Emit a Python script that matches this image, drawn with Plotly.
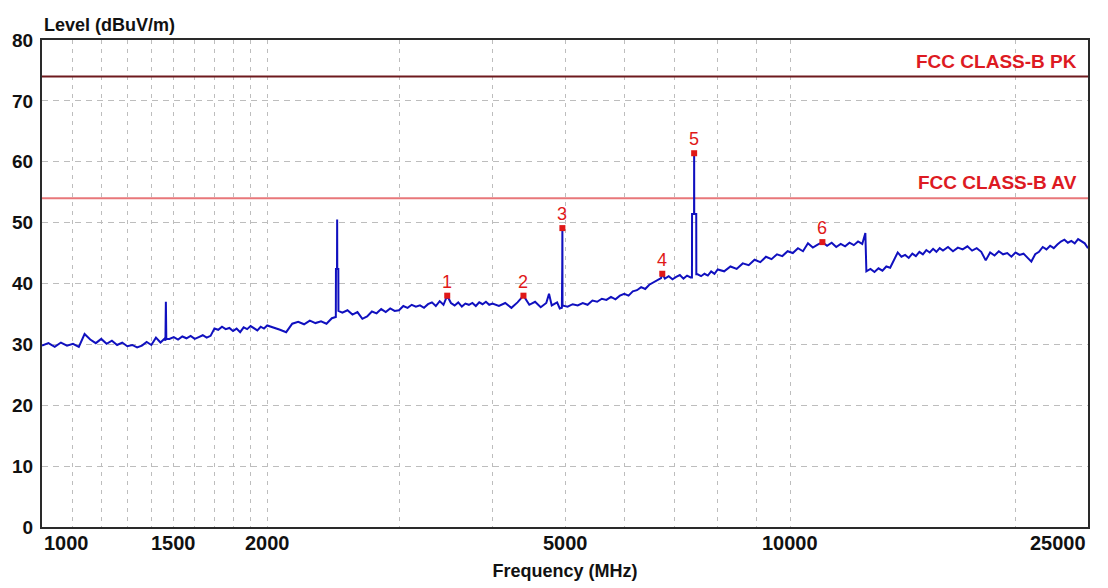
import math
import plotly.graph_objects as go

# Swept emission scan, 1 GHz - 25 GHz (peak detector)
freq_mhz = [
    1000, 1020, 1040, 1060, 1080, 1100, 1120, 1140, 1160, 1180,
    1200, 1220, 1240, 1260, 1280, 1300, 1320, 1340, 1360, 1380,
    1400, 1420, 1440, 1460, 1462, 1464, 1466, 1480, 1500, 1520,
    1540, 1560, 1580, 1600, 1620, 1640, 1660, 1680, 1700, 1720,
    1740, 1760, 1780, 1800, 1820, 1840, 1860, 1880, 1900, 1920,
    1940, 1960, 1980, 2000,
    2040, 2080, 2120, 2160, 2200, 2240, 2280, 2320, 2360, 2400,
    2440, 2470, 2471, 2479, 2480, 2481, 2489, 2490, 2520, 2560,
    2600, 2640, 2680, 2720, 2760, 2800, 2840, 2880, 2920, 2960,
    3000, 3040, 3080, 3120, 3160, 3200, 3240, 3280, 3320, 3360,
    3400, 3440, 3480, 3520, 3560, 3600, 3640, 3680, 3720, 3760,
    3800, 3840, 3880, 3920, 3960, 4000,
    4080, 4160, 4240, 4320, 4400, 4480, 4560, 4640, 4720, 4760,
    4800, 4880, 4920, 4952, 4958, 4960, 4962, 5040, 5120, 5200,
    5280, 5360, 5440, 5520, 5600, 5680, 5760, 5840, 5920, 6000,
    6080, 6160, 6240, 6320, 6400, 6480, 6560, 6640, 6720, 6745,
    6800, 6880, 6960, 7040, 7120, 7200, 7280, 7360, 7390, 7392,
    7438, 7440, 7442, 7488, 7490, 7520, 7600, 7680, 7760, 7840,
    7920, 8000,
    8160, 8320, 8480, 8640, 8800, 8960, 9120, 9280, 9440, 9600,
    9760, 9920, 10080, 10240, 10400, 10560, 10720, 10880, 11040, 11200,
    11360, 11520, 11680, 11840, 12000, 12160, 12320, 12480, 12600, 12640,
    12800, 12960, 13120, 13280, 13440, 13600, 13760, 13920, 14080, 14240,
    14400, 14560, 14720, 14880, 15040, 15200, 15360, 15520, 15680, 15840,
    16000,
    16250, 16500, 16750, 17000, 17250, 17500, 17750, 18000, 18250, 18500,
    18750, 19000, 19250, 19500, 19750, 20000, 20250, 20500, 20750, 21000,
    21250, 21500, 21750, 22000, 22250, 22500, 22750, 23000, 23250, 23500,
    23750, 24000, 24250, 24500, 24750, 25000,
]

level_dbuv = [
    29.8, 30.2, 29.6, 30.3, 29.8, 30.1, 29.6, 31.7, 30.8, 30.2,
    30.9, 30.1, 30.6, 29.9, 30.3, 29.7, 29.9, 29.5, 29.8, 30.4,
    29.9, 31.1, 30.3, 31.0, 30.6, 37.0, 30.9, 30.9, 31.2, 30.8,
    31.3, 31.0, 31.4, 30.9, 31.2, 31.5, 31.1, 31.4, 32.6, 32.4,
    32.9, 32.5, 32.7, 32.2, 32.6, 32.0, 32.8, 32.5, 33.0, 32.7,
    32.3, 32.9, 32.6, 33.1,
    32.8, 32.4, 32.0, 33.4, 33.7, 33.3, 33.9, 33.5, 33.8, 33.4,
    34.3, 34.5, 42.4, 42.4, 50.5, 42.4, 42.4, 35.5, 35.2, 35.6,
    34.9, 35.3, 34.2, 34.6, 35.4, 35.1, 35.8, 35.3, 35.9, 35.5,
    35.6, 36.3, 36.0, 36.5, 36.2, 36.4, 36.0, 36.6, 36.9, 36.3,
    37.1, 36.5, 38.0, 36.8, 36.4, 36.9, 36.2, 36.7, 36.5, 36.8,
    36.3, 36.9, 36.6, 37.0, 36.5, 36.7,
    36.3, 36.8, 36.0, 36.9, 38.0, 36.5, 37.0, 36.1, 36.8, 38.3,
    36.4, 36.9, 35.9, 36.0, 43.0, 49.1, 36.4, 36.2, 36.6, 36.4,
    36.8, 36.5, 37.2, 37.0, 37.5, 37.3, 37.8, 37.4, 38.0, 38.3,
    38.0, 38.7, 38.9, 39.4, 39.1, 39.8, 40.2, 40.5, 40.9, 41.6,
    40.8, 41.2, 40.7, 41.1, 41.4, 40.8, 41.3, 41.0, 41.0, 51.4,
    51.4, 61.4, 51.4, 51.4, 41.5, 41.5, 41.2, 41.6, 41.3, 42.0,
    41.6, 42.3,
    42.0, 42.8, 42.4, 43.3, 43.0, 43.9, 43.5, 44.4, 44.0, 44.8,
    44.5, 45.3, 45.0, 45.8, 45.3, 46.6, 45.9, 46.4, 46.8, 46.2,
    46.7, 46.0, 46.5, 46.1, 46.7, 46.3, 46.9, 46.5, 48.3, 42.0,
    42.4, 41.9, 42.5, 42.1, 42.8, 42.6, 44.0, 45.1, 44.4, 44.7,
    44.2, 44.9, 44.5, 45.2, 44.8, 45.5, 45.1, 45.7, 45.2, 45.8,
    45.4,
    46.0, 45.3, 45.9, 45.6, 46.1, 45.4, 45.8, 45.2, 43.8, 45.1,
    44.6, 45.3, 44.8, 45.0, 44.4, 45.1, 44.7, 44.9, 44.3, 43.6,
    44.8, 45.2, 46.0, 45.6, 46.2, 45.8, 46.4, 46.9, 47.2, 46.7,
    47.0, 46.6, 47.3, 46.9, 46.6, 45.8,
]

# Marked emissions
marker_id = ["1", "2", "3", "4", "5", "6"]
marker_freq = [3480, 4400, 4960, 6745, 7440, 11040]
marker_level = [38.0, 38.0, 49.1, 41.6, 61.4, 46.8]

# FCC Part 15 Class B limits above 1 GHz
limit_names = ["FCC CLASS-B PK", "FCC CLASS-B AV"]
limit_levels = [74, 54]
limit_colors = ["#6e1a1e", "#e8777a"]

x_tick_labels = [1000, 1500, 2000, 5000, 10000, 25000]
x_grid = [1100, 1200, 1300, 1400, 1500, 1600, 1700, 1800, 1900, 2000,
          3000, 4000, 5000, 6000, 7000, 8000, 9000, 10000, 20000]
y_ticks = [0, 10, 20, 30, 40, 50, 60, 70, 80]

f_min, f_max = 1000, 25000
font_main = "Liberation Sans, Arial, sans-serif"

fig = go.Figure()

for name, lvl, col in zip(limit_names, limit_levels, limit_colors):
    fig.add_trace(go.Scatter(
        x=[f_min, f_max], y=[lvl, lvl], mode="lines",
        line=dict(color=col, width=2), hoverinfo="skip", name=name,
    ))
    fig.add_annotation(
        x=1, xref="x domain", y=lvl, yref="y", text=name,
        showarrow=False, xanchor="right", yanchor="bottom",
        xshift=-9, yshift=3,
        font=dict(family=font_main, size=19, color="#dd1a22", weight="bold"),
    )

fig.add_trace(go.Scatter(
    x=freq_mhz, y=level_dbuv, mode="lines",
    line=dict(color="#1010bf", width=2), name="Level",
))

fig.add_trace(go.Scatter(
    x=marker_freq, y=marker_level, mode="markers",
    marker=dict(symbol="square", size=6, color="#e01818"),
    name="Markers",
))

for mid, mf, ml in zip(marker_id, marker_freq, marker_level):
    fig.add_annotation(
        x=math.log10(mf), y=ml, xref="x", yref="y", text=mid,
        showarrow=False, yanchor="bottom", yshift=2,
        font=dict(family=font_main, size=18, color="#e01818"),
    )

# Frequency labels, with the end labels kept inside the frame
for v in x_tick_labels:
    anchor = "left" if v == f_min else ("right" if v == f_max else "center")
    fig.add_annotation(
        x=math.log10(v), xref="x", y=0, yref="paper", text=str(v),
        showarrow=False, xanchor=anchor, yanchor="top", yshift=-3,
        font=dict(family=font_main, size=20, color="#111111", weight="bold"),
    )

fig.add_annotation(
    x=0, xref="paper", y=1, yref="paper", text="Level (dBuV/m)",
    showarrow=False, xanchor="left", yanchor="bottom", yshift=3,
    font=dict(family=font_main, size=18, color="#111111", weight="bold"),
)

fig.update_layout(
    width=1108, height=588,
    margin=dict(l=41, r=20, t=40, b=58),
    paper_bgcolor="white", plot_bgcolor="white",
    showlegend=False,
    xaxis=dict(
        type="log", range=[math.log10(f_min), math.log10(f_max)],
        tickvals=x_grid, showticklabels=False, ticks="",
        showgrid=True, gridcolor="#bdbdbd", gridwidth=1, griddash="4px,5px",
        showline=True, mirror=True, linecolor="#2a2a2a", linewidth=2,
        zeroline=False,
        title=dict(text="Frequency (MHz)", standoff=36,
                   font=dict(family=font_main, size=18, color="#111111", weight="bold")),
    ),
    yaxis=dict(
        range=[0, 80], tickvals=y_ticks, ticks="",
        showgrid=True, gridcolor="#bdbdbd", gridwidth=1, griddash="6px,5px",
        showline=True, mirror=True, linecolor="#2a2a2a", linewidth=2,
        zeroline=False, ticklabelstandoff=3,
        tickfont=dict(family=font_main, size=19, color="#111111", weight="bold"),
    ),
)

fig.write_html("out.html")
